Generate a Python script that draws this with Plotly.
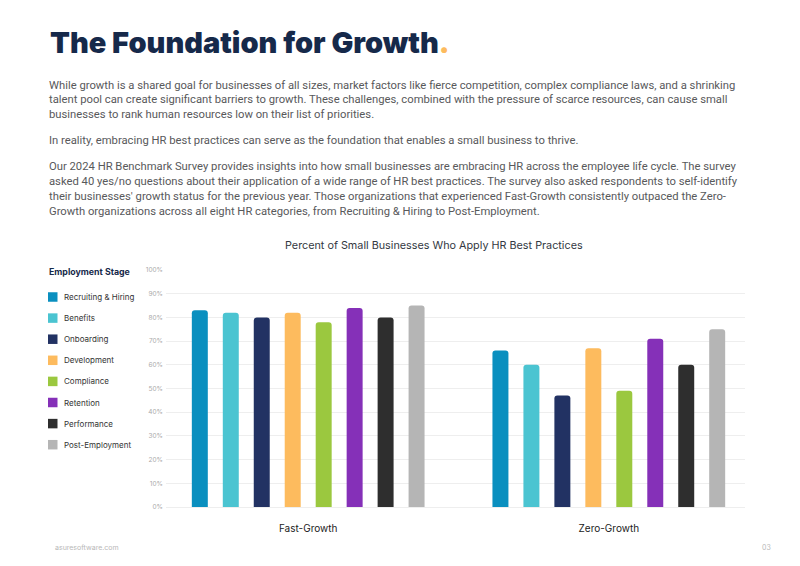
import plotly.graph_objects as go

# ---- data ----
groups = ["Fast-Growth", "Zero-Growth"]
stages = ["Recruiting & Hiring", "Benefits", "Onboarding", "Development",
          "Compliance", "Retention", "Performance", "Post-Employment"]
fast_growth = [83, 82, 80, 82, 78, 84, 80, 85]
zero_growth = [66, 60, 47, 67, 49, 71, 60, 75]
colors = ["#0A8FBF", "#4BC4D1", "#223263", "#FDBB5E",
          "#9BC83F", "#8530B8", "#2E2E2E", "#B5B5B5"]
y_ticks = [0, 10, 20, 30, 40, 50, 60, 70, 80, 90, 100]
y_tick_labels = [f"{v}%" for v in y_ticks]

title_text = "The Foundation for Growth"
paragraph_lines = [
    "While growth is a shared goal for businesses of all sizes, market factors like fierce competition, complex compliance laws, and a shrinking",
    "talent pool can create significant barriers to growth. These challenges, combined with the pressure of scarce resources, can cause small",
    "businesses to rank human resources low on their list of priorities.",
    "In reality, embracing HR best practices can serve as the foundation that enables a small business to thrive.",
    "Our 2024 HR Benchmark Survey provides insights into how small businesses are embracing HR across the employee life cycle. The survey",
    "asked 40 yes/no questions about their application of a wide range of HR best practices. The survey also asked respondents to self-identify",
    "their businesses' growth status for the previous year. Those organizations that experienced Fast-Growth consistently outpaced the Zero-",
    "Growth organizations across all eight HR categories, from Recruiting & Hiring to Post-Employment.",
]
paragraph_y = [85, 99.5, 114, 140.5, 166.5, 181, 196, 211]

# ---- layout geometry ----
W, H = 800, 566
ML, MR, MT, MB = 166, 55, 270, 59
PW, PH = W - ML - MR, H - MT - MB


def px(x):
    return (x - ML) / PW


def py(y):
    return (H - MB - y) / PH


fig = go.Figure()
for i, stage in enumerate(stages):
    fig.add_trace(go.Bar(
        name=stage,
        x=groups,
        y=[fast_growth[i], zero_growth[i]],
        marker=dict(color=colors[i], line=dict(width=0)),
        showlegend=False,
        hovertemplate="%{x}<br>" + stage + ": %{y}%<extra></extra>",
    ))

annotations = []
shapes = []

# title
annotations.append(dict(
    x=px(48), y=py(42), xref="paper", yref="paper", xanchor="left", yanchor="middle",
    text=title_text + "<span style='color:#FDBB5E'>.</span>", showarrow=False,
    font=dict(family="Inter", size=29, color="#16294A", weight=900),
))
# paragraph
for line, yy in zip(paragraph_lines, paragraph_y):
    annotations.append(dict(
        x=px(47), y=py(yy), xref="paper", yref="paper", xanchor="left", yanchor="middle",
        text=line, showarrow=False,
        font=dict(family="Roboto", size=11.25, color="#58595B"),
    ))
# chart title
annotations.append(dict(
    x=px(434), y=py(245), xref="paper", yref="paper", xanchor="center", yanchor="middle",
    text="Percent of Small Businesses Who Apply HR Best Practices", showarrow=False,
    font=dict(family="Inter", size=10.8, color="#333842"),
))
# legend (manual)
annotations.append(dict(
    x=px(47), y=py(271), xref="paper", yref="paper", xanchor="left", yanchor="middle",
    text="<b>Employment Stage</b>", showarrow=False,
    font=dict(family="Inter", size=8.8, color="#16294A"),
))
for i, stage in enumerate(stages):
    cy = 297 + i * 21.1
    shapes.append(dict(
        type="rect", xref="paper", yref="paper",
        x0=px(48), x1=px(57.5), y0=py(cy - 4.75), y1=py(cy + 4.75),
        fillcolor=colors[i], line=dict(width=0),
    ))
    annotations.append(dict(
        x=px(62), y=py(cy), xref="paper", yref="paper", xanchor="left", yanchor="middle",
        text=stage, showarrow=False,
        font=dict(family="Inter", size=8.0, color="#333333"),
    ))
# footer
annotations.append(dict(
    x=px(53), y=py(547), xref="paper", yref="paper", xanchor="left", yanchor="middle",
    text="asuresoftware.com", showarrow=False,
    font=dict(family="Inter", size=7, color="#B8B8B8"),
))
annotations.append(dict(
    x=px(773), y=py(547), xref="paper", yref="paper", xanchor="right", yanchor="middle",
    text="03", showarrow=False,
    font=dict(family="Inter", size=7, color="#B8B8B8"),
))

fig.update_layout(
    width=W, height=H,
    margin=dict(l=ML, r=MR, t=MT, b=MB, pad=0),
    paper_bgcolor="white", plot_bgcolor="white",
    barmode="group", bargap=0.176, bargroupgap=0.484,
    barcornerradius=3,
    showlegend=False,
    annotations=annotations, shapes=shapes,
    xaxis=dict(
        range=[-0.473, 1.453], showgrid=False, showline=False, zeroline=False,
        ticks="", ticklabelstandoff=14,
        tickfont=dict(family="Inter", size=10, color="#222222"),
        fixedrange=True,
    ),
    yaxis=dict(
        range=[0, 100], tickvals=y_ticks, ticktext=y_tick_labels,
        showgrid=True, gridcolor="#EEEEEE", gridwidth=1,
        zeroline=True, zerolinecolor="#EEEEEE", zerolinewidth=1,
        showline=False, ticks="", ticklabelstandoff=2,
        tickfont=dict(family="Inter", size=6.5, color="#AAAAAA"),
        fixedrange=True,
    ),
)

fig.write_html("out.html")
